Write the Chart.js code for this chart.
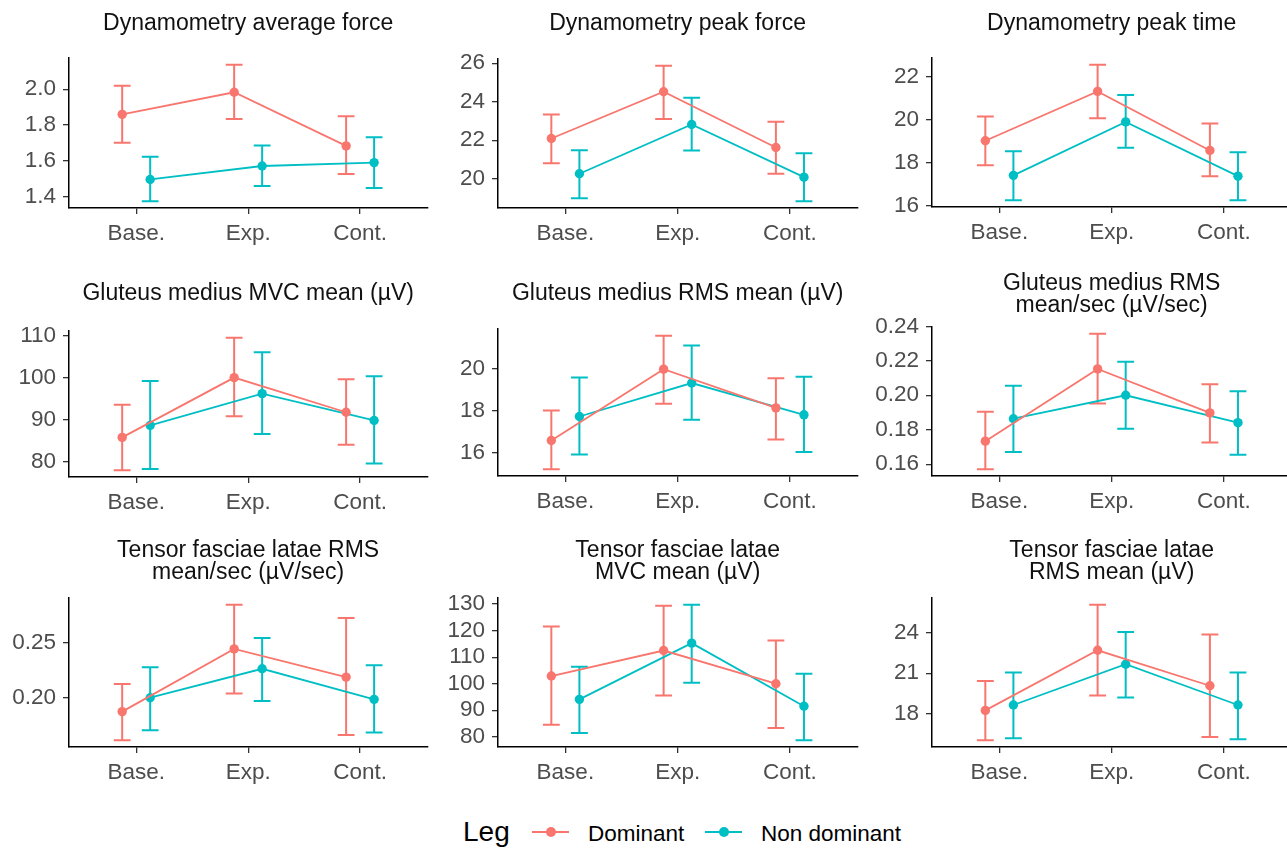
<!DOCTYPE html>
<html>
<head>
<meta charset="utf-8">
<script src="https://cdn.jsdelivr.net/npm/chart.js@4.4.0/dist/chart.umd.min.js"></script>
<style>
  html, body { margin: 0; padding: 0; background: #fff; overflow: hidden; width: 1287px; height: 848px; }
  body { position: relative; font-family: "Liberation Sans", Arial, sans-serif; }
  canvas { position: absolute; }
  .leg { position: absolute; height: 30px; line-height: 30px; color: #000; white-space: nowrap; }
  .key { position: absolute; top: 831px; width: 37px; height: 2px; }
  .key span { position: absolute; left: 14px; top: -4px; width: 10px; height: 10px; border-radius: 50%; }
</style>
</head>
<body>
<div class="leg" style="left:463px; top:817px; font-size:28px;">Leg</div>
<div class="key" style="left:532px; background:#F8766D;"><span style="background:#F8766D;"></span></div>
<div class="leg" style="left:588px; top:819px; font-size:22.5px;">Dominant</div>
<div class="key" style="left:705px; background:#00BFC4;"><span style="background:#00BFC4;"></span></div>
<div class="leg" style="left:761px; top:819px; font-size:22.5px;">Non dominant</div>
<script>
// Data
const categories = ['Base.', 'Exp.', 'Cont.'];
const titles = [
  'Dynamometry average force',
  'Dynamometry peak force',
  'Dynamometry peak time',
  'Gluteus medius MVC mean (µV)',
  'Gluteus medius RMS mean (µV)',
  ['Gluteus medius RMS', 'mean/sec (µV/sec)'],
  ['Tensor fasciae latae RMS', 'mean/sec (µV/sec)'],
  ['Tensor fasciae latae', 'MVC mean (µV)'],
  ['Tensor fasciae latae', 'RMS mean (µV)']
];

// Dominant leg: means and error bar ends, one triple per panel
const domMean = [
  [1.860, 1.983, 1.684], [22.09, 24.52, 21.62], [19.03, 21.33, 18.58],
  [85.85, 100.0, 91.8], [16.58, 19.97, 18.13], [0.1734, 0.2153, 0.1898],
  [0.1873, 0.2445, 0.2188], [102.9, 112.5, 100.0], [18.22, 22.71, 20.06]
];
const domLow = [
  [1.701, 1.834, 1.527], [20.8, 23.1, 20.26], [17.89, 20.08, 17.38],
  [78.05, 90.86, 84.1], [15.21, 18.33, 16.63], [0.1571, 0.1953, 0.1726],
  [0.1612, 0.2039, 0.166], [84.5, 95.6, 83.3], [15.99, 19.34, 16.24]
];
const domHigh = [
  [2.019, 2.136, 1.849], [23.34, 25.87, 22.96], [20.16, 22.57, 19.83],
  [93.6, 109.45, 99.6], [18.0, 21.56, 19.54], [0.1905, 0.2357, 0.2064],
  [0.2124, 0.2848, 0.2727], [121.6, 129.4, 116.3], [20.41, 26.11, 23.88]
];

// Non dominant leg
const nonMean = [
  [1.497, 1.572, 1.591], [20.26, 22.82, 20.08], [17.42, 19.91, 17.38],
  [88.7, 96.2, 89.85], [17.72, 19.31, 17.8], [0.1864, 0.2, 0.1841],
  [0.2, 0.2264, 0.1985], [94.1, 115.3, 91.5], [18.62, 21.67, 18.62]
];
const nonLow = [
  [1.376, 1.460, 1.449], [18.99, 21.47, 18.83], [16.26, 18.7, 16.26],
  [78.4, 86.65, 79.7], [15.92, 17.57, 16.03], [0.1671, 0.1806, 0.1655],
  [0.1703, 0.197, 0.1682], [81.4, 100.4, 78.7], [16.14, 19.19, 16.06]
];
const nonHigh = [
  [1.624, 1.686, 1.733], [21.48, 24.21, 21.33], [18.54, 21.16, 18.49],
  [99.2, 106.0, 100.3], [19.57, 21.09, 19.61], [0.2055, 0.2194, 0.2023],
  [0.2279, 0.2545, 0.2297], [106.4, 129.75, 103.8], [21.05, 24.07, 21.05]
];

const yTicks = [
  [1.4, 1.6, 1.8, 2.0], [20, 22, 24, 26], [16, 18, 20, 22],
  [80, 90, 100, 110], [16, 18, 20], [0.16, 0.18, 0.20, 0.22, 0.24],
  [0.20, 0.25], [80, 90, 100, 110, 120, 130], [18, 21, 24]
];

// Layout (pixels)
const colLeft = [69, 498, 932];
const colRight = [430, 860, 1294];
const plotTop = [58, 59, 58, 331, 329, 327, 598, 598, 598];
const plotBottom = [208, 208, 207, 477, 476, 476, 747, 747, 747];
const titleMid = [24, 23.5, 23.5, 294, 294, 283.5, 550.5, 550.5, 550.5];
const cellTop = [0, 0, 0, 262, 262, 262, 525, 525, 525];

const RED = '#F8766D';
const CYAN = '#00BFC4';
const FONT = '"Liberation Sans", Arial, sans-serif';
const dodge = 0.125;
const capWidth = 0.15;
const yAxisW = 69;
const xAxisH = 45;
const titleLH = 22;

// error bars drawn through the chart scales
const errorBars = {
  id: 'errorBars',
  beforeDatasetsDraw(chart) {
    const { ctx, scales: { x, y } } = chart;
    chart.data.datasets.forEach(ds => {
      ctx.save();
      ctx.strokeStyle = ds.borderColor;
      ctx.lineWidth = 2;
      ds.data.forEach((pt, k) => {
        const px = x.getPixelForValue(pt.x);
        const x0 = x.getPixelForValue(pt.x - capWidth / 2);
        const x1 = x.getPixelForValue(pt.x + capWidth / 2);
        const yLo = y.getPixelForValue(ds.low[k]);
        const yHi = y.getPixelForValue(ds.high[k]);
        ctx.beginPath();
        ctx.moveTo(px, yLo); ctx.lineTo(px, yHi);
        ctx.moveTo(x0, yHi); ctx.lineTo(x1, yHi);
        ctx.moveTo(x0, yLo); ctx.lineTo(x1, yLo);
        ctx.stroke();
      });
      ctx.restore();
    });
  }
};

function decimals(ticks) {
  return Math.max(...ticks.map(t => {
    const s = String(t);
    return s.includes('.') ? s.split('.')[1].length : 0;
  }));
}

function makeDataset(label, color, mean, low, high, shift) {
  return {
    label,
    data: mean.map((v, k) => ({ x: k + 1 + shift, y: v })),
    low, high,
    borderColor: color,
    backgroundColor: color,
    pointBackgroundColor: color,
    borderWidth: 1.8,
    pointRadius: 4.7,
    pointBorderWidth: 0,
    tension: 0
  };
}

for (let i = 0; i < 9; i++) {
  const col = i % 3;
  const lines = Array.isArray(titles[i]) ? titles[i].length : 1;
  const padTop = titleMid[i] - cellTop[i] - titleLH / 2;
  const padBottom = plotTop[i] - cellTop[i] - padTop - lines * titleLH;
  const plotW = colRight[col] - colLeft[col];
  const w = yAxisW + plotW + 2;
  const h = plotBottom[i] + xAxisH - cellTop[i];

  // ggplot-like 5% expansion of the data range
  const lo = Math.min(...domLow[i], ...nonLow[i]);
  const hi = Math.max(...domHigh[i], ...nonHigh[i]);
  const pad = (hi - lo) * 0.05;
  const dec = decimals(yTicks[i]);

  const canvas = document.createElement('canvas');
  canvas.width = w; canvas.height = h;
  canvas.style.left = (colLeft[col] - yAxisW) + 'px';
  canvas.style.top = cellTop[i] + 'px';
  canvas.style.width = w + 'px';
  canvas.style.height = h + 'px';
  document.body.appendChild(canvas);

  new Chart(canvas.getContext('2d'), {
    type: 'line',
    data: {
      datasets: [
        makeDataset('Dominant', RED, domMean[i], domLow[i], domHigh[i], -dodge),
        makeDataset('Non dominant', CYAN, nonMean[i], nonLow[i], nonHigh[i], dodge)
      ]
    },
    options: {
      responsive: false,
      animation: false,
      devicePixelRatio: 1,
      layout: { padding: { left: 0, right: 2, top: 0, bottom: 0 } },
      plugins: {
        legend: { display: false },
        tooltip: { enabled: false },
        title: {
          display: true,
          fullSize: false,
          text: titles[i],
          color: '#111',
          font: { family: FONT, size: 23, weight: 'normal', lineHeight: titleLH / 23 },
          padding: { top: padTop, bottom: padBottom }
        }
      },
      scales: {
        x: {
          type: 'linear',
          min: 0.4,
          max: 3.6,
          afterBuildTicks: s => { s.ticks = categories.map((c, k) => ({ value: k + 1 })); },
          afterFit: s => { s.height = xAxisH; },
          ticks: {
            callback: v => categories[Math.round(v) - 1],
            color: '#4D4D4D',
            font: { family: FONT, size: 22.5 },
            padding: 6,
            maxRotation: 0,
            autoSkip: false
          },
          grid: { display: true, drawOnChartArea: false, drawTicks: true, tickLength: 6, color: '#333', lineWidth: 1.3 },
          border: { display: true, color: '#000', width: 1.5 }
        },
        y: {
          min: lo - pad,
          max: hi + pad,
          afterBuildTicks: s => { s.ticks = yTicks[i].map(v => ({ value: v })); },
          afterFit: s => { s.width = yAxisW; },
          ticks: {
            callback: v => Number(v).toFixed(dec),
            color: '#4D4D4D',
            font: { family: FONT, size: 22.5 },
            padding: 7,
            autoSkip: false
          },
          grid: { display: true, drawOnChartArea: false, drawTicks: true, tickLength: 6, color: '#333', lineWidth: 1.3 },
          border: { display: true, color: '#000', width: 1.5 }
        }
      }
    },
    plugins: [errorBars]
  });
}
</script>
</body>
</html>
